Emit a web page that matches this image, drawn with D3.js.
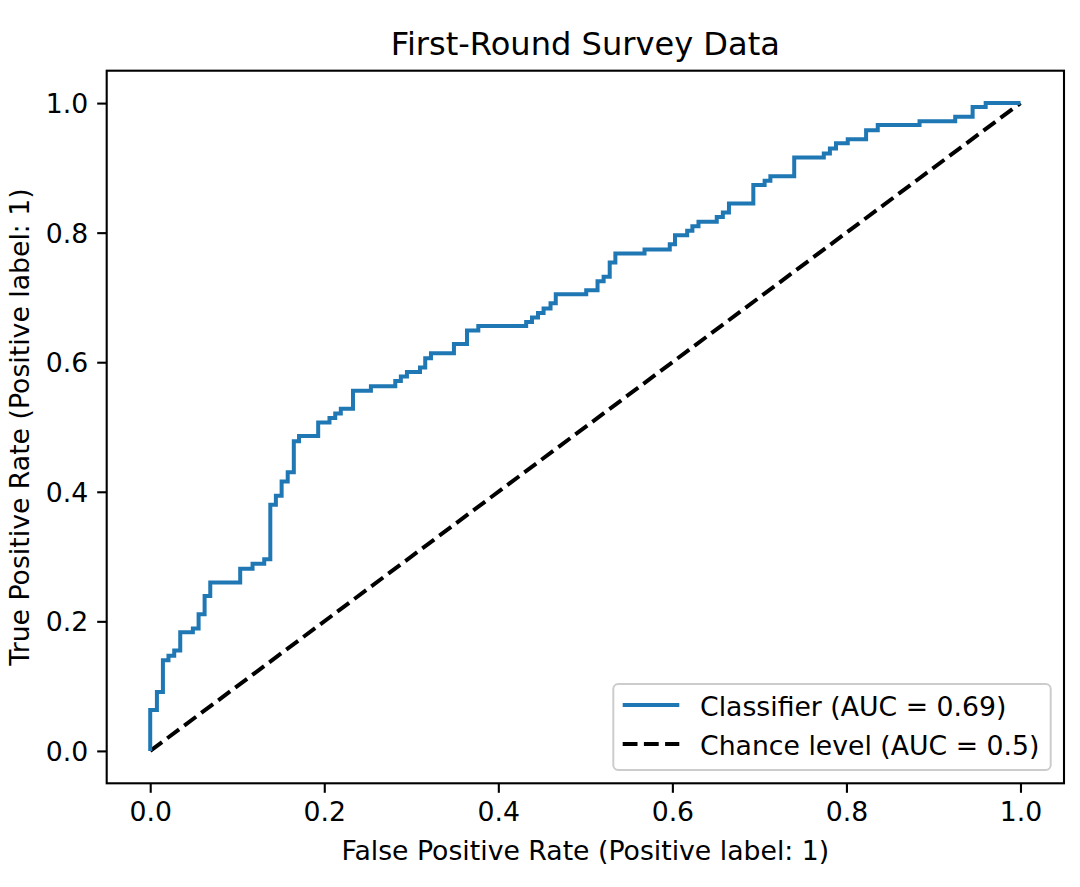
<!DOCTYPE html>
<html>
<head>
<meta charset="utf-8">
<script src="https://cdn.jsdelivr.net/npm/d3@7"></script>
<style>
  body { margin: 0; background: #fff; }
  svg text { font-family: "DejaVu Sans", sans-serif; fill: #000; }
</style>
</head>
<body>
<svg id="chart"></svg>
<script>
// ROC curve: each entry is the tpr level of a step
// and the fpr at which that horizontal run ends (drawn with stepBefore)
var fpr = [0, 0.0077, 0.0146, 0.021, 0.0276, 0.0345, 0.049, 0.0556, 0.0625, 0.069,
           0.1034, 0.1176, 0.131, 0.138, 0.1444, 0.151, 0.158, 0.165, 0.171, 0.193,
           0.206, 0.2126, 0.219, 0.233, 0.2536, 0.2816, 0.288, 0.295, 0.310, 0.316,
           0.3226, 0.349, 0.364, 0.377, 0.432, 0.4387, 0.4456, 0.452, 0.460, 0.466,
           0.501, 0.514, 0.521, 0.528, 0.5345, 0.568, 0.597, 0.603, 0.617, 0.623,
           0.630, 0.651, 0.658, 0.665, 0.693, 0.706, 0.7126, 0.740, 0.774, 0.781,
           0.788, 0.8015, 0.8226, 0.836, 0.884, 0.925, 0.945, 0.960, 1.0];
var tpr = [0, 0.063, 0.091, 0.140, 0.147, 0.155, 0.183, 0.189, 0.211, 0.239,
           0.260, 0.281, 0.289, 0.296, 0.380, 0.394, 0.416, 0.430, 0.478, 0.486,
           0.507, 0.514, 0.521, 0.528, 0.556, 0.563, 0.571, 0.578, 0.585, 0.592,
           0.606, 0.614, 0.628, 0.649, 0.656, 0.662, 0.669, 0.676, 0.683, 0.691,
           0.705, 0.711, 0.725, 0.732, 0.754, 0.768, 0.774, 0.782, 0.796, 0.803,
           0.810, 0.817, 0.824, 0.831, 0.845, 0.8735, 0.880, 0.887, 0.916, 0.922,
           0.930, 0.938, 0.944, 0.958, 0.966, 0.972, 0.979, 0.994, 1.0];

var chanceX = [0, 1];
var chanceY = [0, 1];

var tickValues = [0, 0.2, 0.4, 0.6, 0.8, 1.0];

var legendLabels = ["Classifier (AUC = 0.69)", "Chance level (AUC = 0.5)"];

var width = 1080;
var height = 887;

var marginLeft = 106.7;
var marginTop = 70.7;
var plotWidth = 957.3;
var plotHeight = 712.6;

var tickFont = 26.7;
var titleFont = 32.1;

var svg = d3.select("#chart")
    .attr("width", width)
    .attr("height", height);

var x = d3.scaleLinear().domain([-0.05, 1.05]).range([marginLeft, marginLeft + plotWidth]);
var y = d3.scaleLinear().domain([-0.05, 1.05]).range([marginTop + plotHeight, marginTop]);

// chance diagonal
svg.append("path")
    .datum(d3.zip(chanceX, chanceY))
    .attr("d", d3.line().x(function(d) { return x(d[0]); }).y(function(d) { return y(d[1]); }))
    .attr("fill", "none")
    .attr("stroke", "#000")
    .attr("stroke-width", 4)
    .attr("stroke-dasharray", "14.8,6.4");

// roc curve
svg.append("path")
    .datum(d3.zip(fpr, tpr))
    .attr("d", d3.line()
        .curve(d3.curveStepBefore)
        .x(function(d) { return x(d[0]); })
        .y(function(d) { return y(d[1]); }))
    .attr("fill", "none")
    .attr("stroke", "#1f77b4")
    .attr("stroke-width", 4)
    .attr("stroke-linejoin", "miter");

// axes
var xAxis = svg.append("g")
    .attr("transform", "translate(0," + (marginTop + plotHeight) + ")")
    .call(d3.axisBottom(x).tickValues(tickValues).tickFormat(d3.format(".1f"))
        .tickSize(9.5).tickPadding(9).tickSizeOuter(0));

var yAxis = svg.append("g")
    .attr("transform", "translate(" + marginLeft + ",0)")
    .call(d3.axisLeft(y).tickValues(tickValues).tickFormat(d3.format(".1f"))
        .tickSize(9.5).tickPadding(9).tickSizeOuter(0));

[xAxis, yAxis].forEach(function(g) {
    g.select(".domain").remove();
    g.selectAll(".tick line").attr("stroke", "#000").attr("stroke-width", 2.1);
    g.selectAll(".tick text")
        .style("font-family", "DejaVu Sans")
        .style("font-size", tickFont + "px")
        .attr("fill", "#000");
});
yAxis.selectAll(".tick text").attr("dy", "0.36em");

// frame
svg.append("rect")
    .attr("x", marginLeft)
    .attr("y", marginTop)
    .attr("width", plotWidth)
    .attr("height", plotHeight)
    .attr("fill", "none")
    .attr("stroke", "#000")
    .attr("stroke-width", 2.1);

// title and axis labels
svg.append("text")
    .attr("x", marginLeft + plotWidth / 2)
    .attr("y", 55)
    .attr("text-anchor", "middle")
    .style("font-size", titleFont + "px")
    .text("First-Round Survey Data");

svg.append("text")
    .attr("x", marginLeft + plotWidth / 2)
    .attr("y", 859.5)
    .attr("text-anchor", "middle")
    .style("font-size", tickFont + "px")
    .text("False Positive Rate (Positive label: 1)");

svg.append("text")
    .attr("transform", "translate(29," + (marginTop + plotHeight / 2) + ") rotate(-90)")
    .attr("text-anchor", "middle")
    .style("font-size", tickFont + "px")
    .text("True Positive Rate (Positive label: 1)");

// legend
var legend = svg.append("g");

legend.append("rect")
    .attr("x", 613.3)
    .attr("y", 684)
    .attr("width", 437.4)
    .attr("height", 86)
    .attr("rx", 5)
    .attr("fill", "#fff")
    .attr("fill-opacity", 0.8)
    .attr("stroke", "#cccccc")
    .attr("stroke-width", 2);

var rows = legend.selectAll("g.row")
    .data(legendLabels)
    .enter()
    .append("g")
    .attr("class", "row")
    .attr("transform", function(d, i) { return "translate(0," + (705 + i * 39) + ")"; });

rows.append("line")
    .attr("x1", 622.7)
    .attr("x2", 679.3)
    .attr("stroke", function(d, i) { return i === 0 ? "#1f77b4" : "#000"; })
    .attr("stroke-width", 4)
    .attr("stroke-dasharray", function(d, i) { return i === 0 ? null : "14.8,6.4"; });

rows.append("text")
    .attr("x", 700)
    .attr("y", 10.5)
    .style("font-size", tickFont + "px")
    .text(String);
</script>
</body>
</html>
